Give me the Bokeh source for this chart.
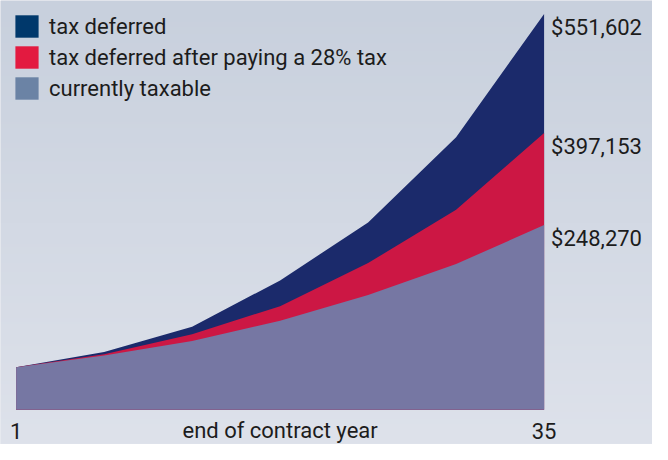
import numpy as np
from bokeh.plotting import figure
from bokeh.models import Range1d, Legend, LegendItem
from bokeh.core.properties import value
from bokeh.embed import file_html
from bokeh.resources import INLINE

# ---------------- data ----------------
steps = [0, 1, 2, 3, 4, 5, 6]
tick_steps = [0, 3, 6]
tick_labels = ["1", "end of contract year", "35"]
tax_deferred = [59200, 80700, 115700, 180300, 261000, 379800, 551602]
after_tax = [59200, 77400, 105300, 144400, 204500, 278900, 385700]
taxable = [59200, 75600, 95900, 124200, 160100, 203200, 257400]
end_labels = ["$551,602", "$397,153", "$248,270"]
series_names = ["tax deferred", "tax deferred after paying a 28% tax", "currently taxable"]

# ---------------- style ----------------
FONT = "Roboto"
TEXT_COLOR = "#1c1c1c"
area_colors = ["#1B2A6B", "#CC1744", "#7677A3"]
legend_colors = ["#00386B", "#E31A40", "#6B83A5"]

W, H = 652, 444
# pixel geometry of the plotting area inside the figure
LEFT_PX, RIGHT_PX = 15.6, 543.6     # x of first / last step
TOP_PX, BASE_PX = 13.5, 409.3       # y of max value / zero line (from top)

pps = (RIGHT_PX - LEFT_PX) / (len(steps) - 1)
x_start = steps[0] - LEFT_PX / pps
x_end = steps[-1] + (W - RIGHT_PX) / pps
ymax = max(tax_deferred)
ppv = (BASE_PX - TOP_PX) / ymax
y_start = -(H - BASE_PX) / ppv
y_end = ymax + TOP_PX / ppv

p = figure(width=W, height=H, output_backend="svg", toolbar_location=None,
           x_range=Range1d(x_start, x_end), y_range=Range1d(y_start, y_end),
           min_border=0, min_border_left=0, min_border_right=0,
           min_border_top=0, min_border_bottom=0)
p.axis.visible = False
p.grid.visible = False
p.outline_line_color = None
p.background_fill_color = "#D5DAE4"
p.border_fill_color = "#D5DAE4"

# vertical gradient background
N = 256
img = np.empty((N, 1), dtype=np.uint32)
view = img.view(dtype=np.uint8).reshape((N, 1, 4))
top_c = np.array([200, 208, 221])
bot_c = np.array([222, 226, 235])
for i in range(N):
    t = i / (N - 1)  # 0 bottom -> 1 top
    c = bot_c * (1 - t) + top_c * t
    view[i, 0, 0:3] = c.astype(np.uint8)
    view[i, 0, 3] = 255
p.image_rgba(image=[img], x=x_start, y=y_start, dw=x_end - x_start, dh=y_end - y_start)

# overlapping areas
for ys, col in zip([tax_deferred, after_tax, taxable], area_colors):
    p.varea(x=steps, y1=[0] * len(steps), y2=ys, fill_color=col)

# x tick texts
p.text(x=tick_steps, y=[0] * len(tick_steps), text=tick_labels,
       text_font=value(FONT), text_font_size="22px", text_color=TEXT_COLOR,
       text_align="center", text_baseline="middle", y_offset=21)

# end-value labels
end_vals = [tax_deferred[-1], after_tax[-1], taxable[-1]]
p.text(x=[steps[-1]] * 3, y=end_vals, text=end_labels,
       text_font=value(FONT), text_font_size="22px", text_color=TEXT_COLOR,
       text_align="left", text_baseline="middle", x_offset=7, y_offset=13)

# legend with its own swatch colours (zero-area dummy glyphs)
dummies = [p.quad(left=[steps[0]], right=[steps[0]], top=[0], bottom=[0],
                  fill_color=c, line_color=None)
           for c in legend_colors]
legend = Legend(items=[LegendItem(label=n, renderers=[r]) for n, r in zip(series_names, dummies)],
                location="top_left", glyph_width=29, glyph_height=28,
                label_text_font=FONT, label_text_font_size="22px", label_text_color=TEXT_COLOR,
                spacing=3, padding=12, margin=0, label_standoff=8,
                background_fill_alpha=0, border_line_alpha=0)
p.add_layout(legend)

open("out.html", "w").write(file_html(p, INLINE))
